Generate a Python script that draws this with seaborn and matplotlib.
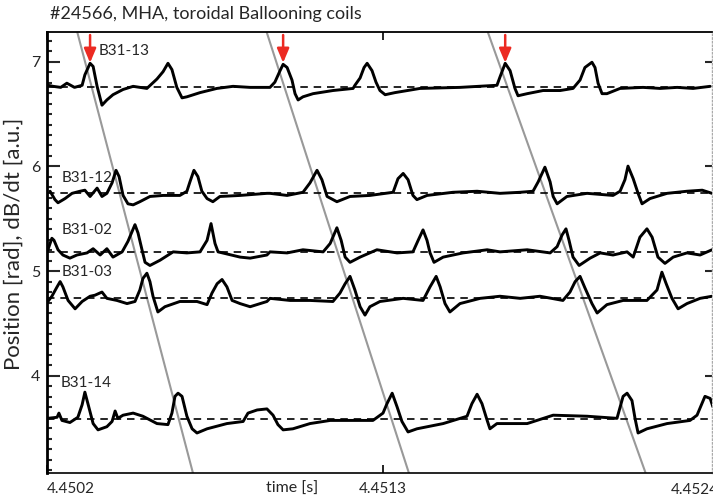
import matplotlib
matplotlib.use("Agg")
import matplotlib.pyplot as plt
from matplotlib.ticker import MultipleLocator, NullLocator
from matplotlib.transforms import blended_transform_factory
import pandas as pd
import seaborn as sns

# ---------------- data (time in microseconds after T0, value offset from baseline) ----
T0 = 4.4502            # s, left edge of the time axis
T_END_US = 2177        # right edge of the axis, us after T0
Y_MIN, Y_MAX = 3.069, 7.284

coil_names = ["B31-13", "B31-12", "B31-02", "B31-03", "B31-14"]
coil_baseline = [6.755, 5.743, 5.184, 4.740, 3.584]
label_us = [170, 48, 48, 48, 46]
label_val = [7.102, 5.894, 5.393, 4.987, 3.935]

b13 = [(3, 0.02), (20, 0.01), (45, 0.00), (65, 0.04), (90, 0.00), (115, 0.02), (124, 0.12),
       (141, 0.23), (151, 0.20), (164, 0.01), (180, -0.17), (196, -0.12), (216, -0.07),
       (249, -0.02), (282, 0.01), (327, -0.01), (360, 0.08), (380, 0.15), (396, 0.23),
       (409, 0.17), (425, 0.00), (442, -0.10), (458, -0.09), (501, -0.05), (556, -0.01),
       (609, 0.01), (665, 0.00), (730, 0.00), (746, 0.05), (763, 0.16), (773, 0.22),
       (786, 0.19), (802, 0.07), (812, -0.06), (822, -0.12), (838, -0.09), (871, -0.06),
       (936, -0.03), (1002, -0.01), (1008, 0.02), (1025, 0.09), (1038, 0.19), (1048, 0.23),
       (1064, 0.16), (1077, 0.05), (1090, -0.03), (1107, -0.07), (1139, -0.05), (1221, -0.01),
       (1352, 0.00), (1473, 0.02), (1483, 0.10), (1500, 0.23), (1516, 0.16), (1532, -0.01),
       (1542, -0.08), (1572, -0.06), (1624, -0.03), (1680, -0.03), (1722, -0.01), (1745, 0.07),
       (1761, 0.19), (1784, 0.24), (1794, 0.19), (1804, 0.04), (1817, -0.06), (1833, -0.06),
       (1876, -0.01), (1951, 0.00), (2007, -0.01), (2063, 0.00), (2115, -0.01), (2171, 0.01)]

b12 = [(10, 0.02), (26, -0.06), (36, -0.09), (59, -0.05), (82, 0.00), (108, 0.02), (124, 0.03),
       (141, -0.03), (164, 0.05), (180, -0.03), (196, 0.00), (213, 0.10), (226, 0.22),
       (236, 0.16), (249, -0.02), (265, -0.10), (282, -0.11), (304, -0.08), (337, -0.03),
       (380, -0.02), (435, -0.02), (458, 0.02), (468, 0.11), (481, 0.22), (494, 0.16),
       (507, 0.02), (524, -0.05), (543, -0.08), (566, -0.03), (632, -0.02), (720, 0.00),
       (730, 0.00), (786, -0.02), (838, 0.01), (861, 0.10), (884, 0.22), (900, 0.13),
       (917, -0.03), (949, -0.08), (992, -0.03), (1057, -0.02), (1133, 0.01), (1149, 0.14),
       (1166, 0.19), (1182, 0.13), (1198, -0.02), (1211, -0.06), (1244, -0.02), (1329, 0.01),
       (1408, 0.02), (1483, 0.00), (1549, 0.01), (1591, 0.02), (1608, 0.11), (1630, 0.25),
       (1647, 0.11), (1657, -0.03), (1670, -0.10), (1702, -0.03), (1768, 0.00), (1853, -0.02),
       (1876, 0.02), (1892, 0.13), (1902, 0.26), (1919, 0.14), (1935, 0.00), (1948, -0.10),
       (1974, -0.05), (2030, 0.00), (2095, 0.02), (2145, 0.03), (2177, 0.00)]

b02 = [(3, 0.02), (16, 0.13), (23, 0.11), (36, 0.02), (52, -0.03), (75, -0.06), (98, -0.03),
       (131, -0.01), (151, 0.03), (174, -0.03), (196, 0.03), (216, -0.05), (246, 0.00),
       (265, 0.10), (288, 0.26), (298, 0.18), (311, 0.02), (321, -0.10), (337, -0.13),
       (370, -0.08), (413, 0.00), (458, -0.01), (501, 0.00), (524, 0.11), (537, 0.27),
       (550, 0.08), (560, 0.00), (589, -0.02), (632, -0.05), (665, -0.06), (720, -0.03),
       (730, 0.00), (786, -0.01), (838, 0.02), (904, 0.00), (927, 0.08), (949, 0.23),
       (963, 0.11), (976, -0.05), (992, -0.10), (1025, -0.05), (1080, 0.02), (1146, -0.01),
       (1198, 0.00), (1215, 0.11), (1231, 0.21), (1244, 0.11), (1254, -0.01), (1267, -0.10),
       (1297, -0.05), (1362, -0.01), (1441, 0.02), (1483, 0.00), (1572, 0.02), (1647, -0.01),
       (1670, 0.05), (1686, 0.16), (1699, 0.22), (1709, 0.11), (1722, -0.05), (1742, -0.13),
       (1778, -0.06), (1811, -0.01), (1853, -0.03), (1899, 0.00), (1919, -0.05), (1941, 0.14),
       (1964, 0.22), (1981, 0.14), (2000, -0.05), (2023, -0.11), (2050, -0.05), (2095, -0.01),
       (2138, -0.03), (2177, 0.02)]

b03 = [(3, -0.03), (16, 0.02), (33, 0.11), (43, 0.16), (52, 0.11), (69, -0.02), (92, -0.10),
       (115, -0.03), (141, 0.02), (157, 0.03), (180, 0.06), (196, 0.00), (229, -0.02),
       (262, -0.05), (288, -0.03), (304, 0.08), (314, 0.19), (327, 0.24), (337, 0.16),
       (347, 0.02), (363, -0.13), (386, -0.08), (435, -0.03), (491, -0.03), (524, -0.06),
       (540, 0.05), (557, 0.14), (573, 0.18), (589, 0.11), (606, -0.02), (632, -0.05),
       (665, -0.08), (720, -0.03), (730, 0.00), (796, -0.02), (861, -0.02), (936, -0.03),
       (959, 0.05), (976, 0.14), (992, 0.21), (1008, 0.08), (1025, -0.08), (1041, -0.16),
       (1057, -0.08), (1090, -0.03), (1166, 0.00), (1231, -0.02), (1254, 0.11), (1274, 0.21),
       (1287, 0.11), (1303, -0.05), (1319, -0.13), (1352, -0.05), (1418, 0.00), (1483, 0.02),
       (1549, 0.00), (1614, 0.02), (1689, -0.02), (1712, 0.06), (1729, 0.16), (1745, 0.21),
       (1761, 0.10), (1784, -0.05), (1801, -0.14), (1833, -0.06), (1886, -0.02), (1964, -0.02),
       (1997, 0.08), (2013, 0.25), (2027, 0.14), (2046, 0.00), (2066, -0.10), (2095, -0.05),
       (2138, 0.00), (2177, 0.02)]

b14 = [(3, 0.01), (33, 0.02), (39, 0.06), (49, -0.01), (75, -0.03), (101, 0.02), (115, 0.14),
       (124, 0.26), (134, 0.15), (151, -0.04), (167, -0.10), (196, -0.07), (213, -0.02),
       (223, 0.08), (232, 0.01), (249, 0.04), (282, 0.06), (314, 0.03), (360, -0.04),
       (396, -0.05), (409, 0.06), (419, 0.22), (429, 0.25), (442, 0.22), (458, 0.03),
       (475, -0.09), (491, -0.13), (524, -0.09), (589, -0.04), (642, -0.02), (658, 0.06),
       (688, 0.09), (720, 0.10), (740, 0.04), (756, -0.05), (773, -0.10), (805, -0.09),
       (861, -0.04), (927, -0.01), (992, -0.01), (1025, -0.01), (1067, -0.01), (1100, 0.06),
       (1113, 0.15), (1130, 0.25), (1146, 0.12), (1162, -0.02), (1182, -0.12), (1211, -0.09),
       (1297, -0.04), (1375, 0.03), (1391, 0.15), (1408, 0.24), (1424, 0.15), (1441, -0.01),
       (1450, -0.09), (1473, -0.04), (1572, -0.04), (1657, 0.04), (1768, 0.03), (1866, 0.01),
       (1886, 0.22), (1899, 0.25), (1915, 0.18), (1925, 0.01), (1935, -0.13), (1964, -0.09),
       (2030, -0.04), (2105, -0.01), (2128, 0.04), (2154, 0.22), (2171, 0.20), (2180, 0.12)]

coil_traces = [b13, b12, b02, b03, b14]

# slanted grey guide lines: time (us) at top and bottom of the frame
gray_top_us = [99, 719, 1443]
gray_bot_us = [478, 1185, 1960]

# red arrows marking the B31-13 peaks
arrow_us = [141, 773, 1500]
arrow_from, arrow_to = 7.255, 6.990

x_tick_vals = [4.4502, 4.4513, 4.4524]
x_tick_text = ["4.4502", "4.4513", "4.4524"]

# ---------------- build long table ----------------
rows = []
for name, base, tr in zip(coil_names, coil_baseline, coil_traces):
    for us, d in tr:
        rows.append({"coil": name, "time": T0 + us * 1e-6, "value": base + d})
df = pd.DataFrame(rows)

# ---------------- figure ----------------
sns.set_style("ticks")
plt.rcParams["font.family"] = ["Lato", "DejaVu Sans"]

W, H = 713, 501
fig = plt.figure(figsize=(W / 100, H / 100), dpi=100)
ax = fig.add_axes([47 / W, (H - 473.3) / H, 665 / W, 441.3 / H])

# grey guide lines
for tt, tb in zip(gray_top_us, gray_bot_us):
    ax.plot([T0 + tt * 1e-6, T0 + tb * 1e-6], [Y_MAX, Y_MIN], color="#999999",
            lw=1.5, zorder=1.5, solid_capstyle="butt")

# dashed baselines
for base in coil_baseline:
    ax.axhline(base, color="black", lw=1.2, dashes=(4.5, 3.5), zorder=2)

sns.lineplot(data=df, x="time", y="value", units="coil", estimator=None, sort=False,
             color="black", lw=2.1, ax=ax, zorder=3, legend=False)

# coil labels
for name, lu, lv in zip(coil_names, label_us, label_val):
    ax.text(T0 + lu * 1e-6, lv, name, ha="left", va="center", fontsize=11, zorder=4)

# red arrows
for au in arrow_us:
    ax.annotate("", xy=(T0 + au * 1e-6, arrow_to), xytext=(T0 + au * 1e-6, arrow_from),
                arrowprops=dict(arrowstyle="-|>,head_length=0.85,head_width=0.36",
                                color="#ec2a22", lw=1.8, mutation_scale=10,
                                shrinkA=0, shrinkB=0), zorder=5)

ax.set_xlim(T0, T0 + T_END_US * 1e-6)
ax.set_ylim(Y_MIN, Y_MAX)

# x ticks
ax.set_xticks(x_tick_vals[:2])
ax.set_xticklabels(x_tick_text[:2])
ax.xaxis.set_minor_locator(NullLocator())
ax.tick_params(axis="x", which="major", direction="in", top=True, bottom=True,
               length=5.5, width=1.2, labelsize=11, pad=6, color="black")
ax.get_xticklabels()[0].set_ha("left")
trans = blended_transform_factory(ax.transData, ax.transAxes)
ax.text(x_tick_vals[2], -0.0213, x_tick_text[2], transform=trans, ha="right", va="top",
        fontsize=11, clip_on=False)

# y ticks
ax.yaxis.set_major_locator(MultipleLocator(1))
ax.yaxis.set_minor_locator(MultipleLocator(0.1))
ax.tick_params(axis="y", which="major", direction="in", left=True, right=False,
               length=9.5, width=1.5, labelsize=11.5, pad=5)
ax.tick_params(axis="y", which="minor", direction="in", left=True, right=False,
               length=3.8, width=1.5)

sec = ax.secondary_yaxis("right")
sec.set_yticks([4, 5, 6, 7])
sec.yaxis.set_minor_locator(NullLocator())
sec.tick_params(axis="y", direction="in", length=5, width=1.5, labelright=False)
sec.spines["right"].set(color="#aaaaaa", linestyle=":", linewidth=1.0)

ax.spines["right"].set_visible(False)
ax.spines["left"].set_linewidth(2.0)
ax.spines["top"].set_linewidth(1.3)
ax.spines["bottom"].set_linewidth(1.2)
for s in ("left", "top", "bottom"):
    ax.spines[s].set_color("black")

ax.set_xlabel("")
ax.set_ylabel("")
fig.text(292 / W, 1 - 489 / H, "time [s]", ha="center", va="center", fontsize=11.5)
fig.text(14 / W, 1 - 244 / H, "Position [rad], dB/dt [a.u.]", rotation=90,
         ha="center", va="center", fontsize=16)
fig.text(50 / W, 1 - 14 / H, "#24566, MHA, toroidal Ballooning coils", ha="left",
         va="center", fontsize=13)

fig.savefig("out.png", dpi=100)
